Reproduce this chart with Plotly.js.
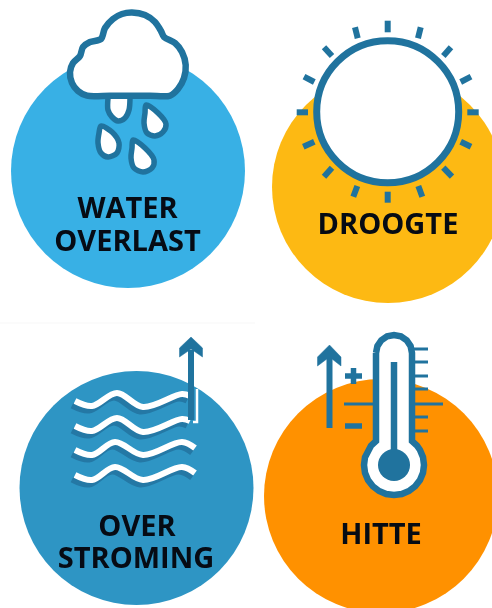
<!DOCTYPE html>
<html>
<head>
<meta charset="utf-8">
<script src="https://cdn.plot.ly/plotly-3.0.1.min.js"></script>
<style>html,body{margin:0;padding:0;background:#fff;overflow:hidden}#c{width:492px;height:608px;filter:blur(0.5px)}</style>
</head>
<body>
<div id="c"></div>
<script>
// Colours
const ICON = '#20739E', ICON2 = '#2478A5', INK = '#060B14';
// Background discs
const discX = [128, 388, 136.5, 381];
const discY = [171, 187, 488, 496];
const discD = [234, 232, 234, 234];
const discC = ['#38B0E5', '#FDB913', '#2E95C4', '#FF9100'];
// Labels
const labels = ['WATER', 'OVERLAST', 'DROOGTE', 'OVER', 'STROMING', 'HITTE'];
const labelX = [127.5, 127.5, 388, 137, 136, 381];
const labelY = [210.5, 243.5, 226.5, 528.5, 560.5, 536.5];
// Cloud and drops
const cloudX = [130, 110, 87, 78, 72, 70, 73, 80, 83, 90, 101, 105, 113, 122, 132, 145, 155, 161, 164, 175, 182, 185.7, 184, 178, 170, 150, 130];
const cloudY = [95.7, 95.7, 95.7, 91, 83, 72, 63, 56, 47, 42, 39, 28, 19, 14, 12.5, 15, 22, 31, 37, 43, 52, 65, 78, 89, 95.7, 95.7, 95.7];
const drop1X = [108, 108, 112, 118, 125, 129, 130];
const drop1Y = [98, 110, 117, 121, 118, 110, 98];
const drop2X = [146, 158, 166, 163, 155, 147, 144, 145, 146];
const drop2Y = [105, 113, 124, 132, 136, 133, 123, 113, 105];
const drop3X = [101, 112, 119, 117, 108, 101, 98, 99, 101];
const drop3Y = [126, 132, 143, 153, 157, 153, 143, 133, 126];
const drop4X = [133, 145, 154, 152, 143, 134, 131, 132, 133];
const drop4Y = [140, 148, 160, 168, 172, 168, 158, 148, 140];
// Sun
const sunX = [387.7], sunY = [111.7], sunD = [142];
const rayX = [387.7,387.7,null,355,357.7,null,420.7,418,null,324,332,null,451,443.3,null,304,314.3,null,471,460.7,null,296.7,308,null,478.7,467.3,null,303.3,314.3,null,471,460.7,null,324,332,null,452,443.3,null,353.3,357.3,null,422.3,418.3,null,387.7,387.7];
const rayY = [20.7,32.3,null,27.3,38.3,null,27.3,38.3,null,47.3,56,null,47.3,56,null,76.7,82,null,76.7,82,null,112.3,112.3,null,112.3,112.3,null,146.7,141.7,null,146.7,141.7,null,176.7,167.7,null,176.7,167.7,null,196.7,186,null,196.7,186,null,202.7,191.7];
// Waves
const waveX = [75, 92, 117, 143, 182, 190];
const wave1Y = [401, 406, 393, 407, 394, 396];
const wave2Y = [426, 431, 418, 432, 419, 421];
const wave3X = [75, 92, 115, 143, 182, 195];
const wave3Y = [450, 455, 442, 455, 442, 448];
const wave4Y = [475, 480, 467, 480, 467, 473];
const shadowDX = -3, shadowDY = 4.5;
// Flood arrow
const floodStemX = [191, 191], floodStemY = [420, 350];
const floodHeadX = [191, 202.5, 202.5, 191, 179.5, 179.5, 191];
const floodHeadY = [337, 348, 357, 349, 357, 348, 337];
const floodEdgeX = [193, 197, 197], floodEdgeY = [422, 422, 389];
// Thermometer
const tubeX = [376,377.4,381.3,387.1,394,400.9,406.7,410.6,412,412,417,420,423,424,423,420,415.2,409,401.8,394,386.2,379,372.8,368,365,364,365,368,371,376,376];
const tubeY = [353,346.1,340.3,336.4,335,336.4,340.3,346.1,353,441,445.7,450,457.2,465,472.8,480,486.2,491,494,495,494,491,486.2,480,472.8,465,457.2,450,445.7,441,353];
const mercuryX = [394, 394], mercuryY = [362, 455];
const bulbX = [394], bulbY = [465], bulbD = [32];
const tickX = [413,428,null,413,428,null,413,428,null,413,428,null,413,443,null,413,428,null,413,428,null,344,373];
const tickY = [349,349,null,362,362,null,376,376,null,389,389,null,404,404,null,417,417,null,431,431,null,404,404];
const heatStemX = [329.5, 329.5], heatStemY = [428, 353];
const heatHeadX = [329.5, 341, 341, 329.5, 317.5, 317.5, 329.5];
const heatHeadY = [345, 357, 366, 357, 366, 357, 345];
const plusX = [345, 362, null, 353.5, 353.5], plusY = [376, 376, null, 368, 384];
const minusX = [345, 362], minusY = [426, 426];
const seamX = [0, 255], seamY = [323, 323];

function line(x, y, color, width, shape) {
  return {type:'scatter', mode:'lines', x, y, hoverinfo:'skip', connectgaps:false,
    line:{color, width, shape:shape||'linear', smoothing:1}};
}
function closed(x, y, color, width, fill, shape) {
  return {type:'scatter', mode:'lines', x, y, hoverinfo:'skip', fill:'toself', fillcolor:fill,
    line:{color, width, shape:shape||'spline', smoothing:0.9}};
}
function solid(x, y, color) {
  return {type:'scatter', mode:'lines', x, y, hoverinfo:'skip', fill:'toself', fillcolor:color,
    line:{color, width:0.5}};
}
function disc(x, y, d, fill, lc, lw) {
  return {type:'scatter', mode:'markers', x, y, hoverinfo:'skip',
    marker:{size:d, color:fill, opacity:1, line:{color:lc||fill, width:lw||0}}};
}
const shift = (a, d) => a.map(v => v + d);

const traces = [
  line(seamX, seamY, '#F7F7F7', 1),
  disc(discX, discY, discD, discC),
  // water overlast
  closed(drop1X, drop1Y, ICON, 5.5, '#FFFFFF'),
  closed(drop2X, drop2Y, ICON, 5.5, '#FFFFFF'),
  closed(drop3X, drop3Y, ICON, 5.5, '#FFFFFF'),
  closed(drop4X, drop4Y, ICON, 5.5, '#FFFFFF'),
  closed(cloudX, cloudY, ICON, 6.5, '#FFFFFF'),
  // droogte
  line(rayX, rayY, ICON, 6),
  disc(sunX, sunY, sunD, '#FFFFFF', ICON, 7),
  // overstroming
  line(shift(waveX, shadowDX), shift(wave1Y, shadowDY), ICON2, 6, 'spline'),
  line(shift(waveX, shadowDX), shift(wave2Y, shadowDY), ICON2, 6, 'spline'),
  line(shift(wave3X, shadowDX), shift(wave3Y, shadowDY), ICON2, 6, 'spline'),
  line(shift(wave3X, shadowDX), shift(wave4Y, shadowDY), ICON2, 6, 'spline'),
  line(waveX, wave1Y, '#FFFFFF', 6, 'spline'),
  line(waveX, wave2Y, '#FFFFFF', 6, 'spline'),
  line(wave3X, wave3Y, '#FFFFFF', 6, 'spline'),
  line(wave3X, wave4Y, '#FFFFFF', 6, 'spline'),
  line(floodEdgeX, floodEdgeY, '#FFFFFF', 2.5),
  line(floodStemX, floodStemY, ICON, 6),
  solid(floodHeadX, floodHeadY, ICON),
  // hitte
  line(tickX, tickY, ICON, 3),
  closed(tubeX, tubeY, ICON, 6.5, '#FFFFFF', 'linear'),
  line(mercuryX, mercuryY, ICON, 6.5),
  disc(bulbX, bulbY, bulbD, ICON),
  line(heatStemX, heatStemY, ICON, 6),
  solid(heatHeadX, heatHeadY, ICON),
  line(plusX, plusY, ICON, 5.5),
  line(minusX, minusY, ICON, 5.5),
  // labels
  {type:'scatter', mode:'text', x:labelX, y:labelY, text:labels, hoverinfo:'skip',
   textposition:'middle center', cliponaxis:false,
   textfont:{family:'"Open Sans", sans-serif', size:29, color:INK, weight:700}}
];
const layout = {
  width:492, height:608, margin:{l:0,r:0,t:0,b:0,pad:0},
  paper_bgcolor:'#FFFFFF', plot_bgcolor:'#FFFFFF', showlegend:false,
  xaxis:{range:[0,492], visible:false, fixedrange:true},
  yaxis:{range:[608,0], visible:false, fixedrange:true}
};
Plotly.newPlot('c', traces, layout, {staticPlot:true, displayModeBar:false});
</script>
</body>
</html>
